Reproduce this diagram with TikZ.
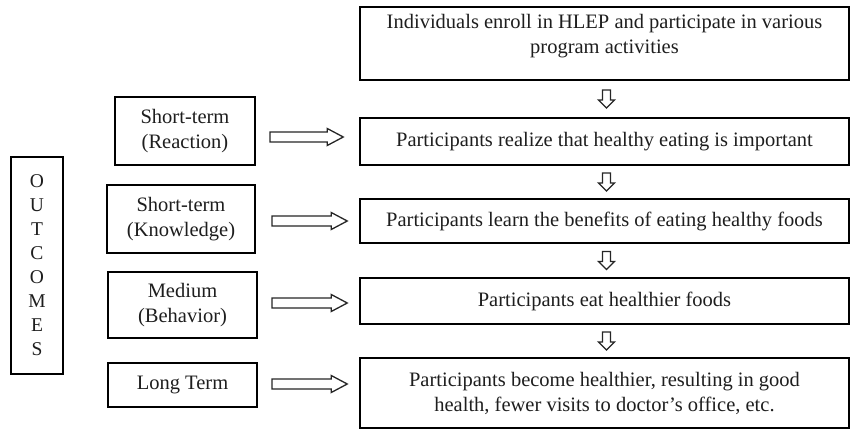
\documentclass[tikz,border=0pt]{standalone}
\usepackage{fontspec}
\setmainfont{Liberation Serif}
\usetikzlibrary{calc}
\definecolor{txtc}{HTML}{1E1E1E}
\tikzset{
  x=1pt, y=-1pt,
  boxst/.style={draw=black, line width=1.5pt, fill=white, inner sep=0pt, text=txtc,
    align=center, font=\fontsize{20.5}{25}\selectfont},
  txtst/.style={inner sep=0pt, text=txtc, align=center, font=\fontsize{20.5}{25}\selectfont},
  fatright/.style={line width=1.3pt, draw=black!85, fill=white,
    to path={let \p1=(\tikztostart), \p2=(\tikztotarget) in
      (\x1,\y1+5pt) -- (\x2-16pt,\y1+5pt) -- (\x2-16pt,\y1+8.5pt) -- (\x2,\y1)
      -- (\x2-16pt,\y1-8.5pt) -- (\x2-16pt,\y1-5pt) -- (\x1,\y1-5pt) -- cycle}},
  fatdown/.style={line width=1.3pt, draw=black!85, fill=white,
    to path={let \p1=(\tikztostart), \p2=(\tikztotarget), \n1={0.5*(\y1+\y2)} in
      (\x1-4pt,\n1+9pt) -- (\x1-4pt,\n1-1pt) -- (\x1-8pt,\n1-1pt) -- (\x1,\n1-9pt)
      -- (\x1+8pt,\n1-1pt) -- (\x1+4pt,\n1-1pt) -- (\x1+4pt,\n1+9pt) -- cycle}}
}
\begin{document}
\begin{tikzpicture}
\useasboundingbox (0,0) rectangle (850,430);
% right boxes
\node[boxst, minimum width=489pt, minimum height=73pt] (r1) at (604.5,43.5) {};
\node[txtst] (r1t) at ([yshift=7pt]r1.center) {Individuals enroll in HLEP and participate in various\\program activities};
\node[boxst, minimum width=489pt, minimum height=47pt] (r2) at (604.5,141.5) {Participants realize that healthy eating is important};
\node[boxst, minimum width=489pt, minimum height=44pt] (r3) at (604.5,221) {Participants learn the benefits of eating healthy foods};
\node[boxst, minimum width=489pt, minimum height=46pt] (r4) at (604.5,301) {Participants eat healthier foods};
\node[boxst, minimum width=489pt, minimum height=70pt] (r5) at (604.5,393) {Participants become healthier, resulting in good\\health, fewer visits to doctor's office, etc.};
% left boxes
\node[boxst, minimum width=140pt, minimum height=68pt] (l1) at (185,131) {Short-term\\(Reaction)};
\node[boxst, minimum width=148pt, minimum height=68pt] (l2) at (181,219) {Short-term\\(Knowledge)};
\node[boxst, minimum width=149pt, minimum height=66pt] (l3) at (182.5,305) {Medium\\(Behavior)};
\node[boxst, minimum width=149pt, minimum height=44pt] (l4) at (182.5,385) {Long Term};
% outcomes
\node[boxst, minimum width=52pt, minimum height=217pt, font=\fontsize{19.5}{24}\selectfont] (oc) at (37,265.5) {O\\U\\T\\C\\O\\M\\E\\S};
% horizontal arrows
\coordinate (t1) at (270,137);
\coordinate (t2) at (272,221);
\coordinate (t3) at (272,303);
\coordinate (t4) at (272,384);
\draw[fatright] (t1) to ([xshift=-16pt]r2.west |- t1);
\draw[fatright] (t2) to ([xshift=-12pt]r3.west |- t2);
\draw[fatright] (t3) to ([xshift=-12pt]r4.west |- t3);
\draw[fatright] (t4) to ([xshift=-12pt]r5.west |- t4);
% down arrows
\draw[fatdown] ([xshift=2pt]r1.south) to ([xshift=2pt]r2.north);
\draw[fatdown] ([xshift=2pt]r2.south) to ([xshift=2pt]r3.north);
\draw[fatdown] ([xshift=2pt]r3.south) to ([xshift=2pt]r4.north);
\draw[fatdown] ([xshift=2pt]r4.south) to ([xshift=2pt]r5.north);
\end{tikzpicture}
\end{document}
